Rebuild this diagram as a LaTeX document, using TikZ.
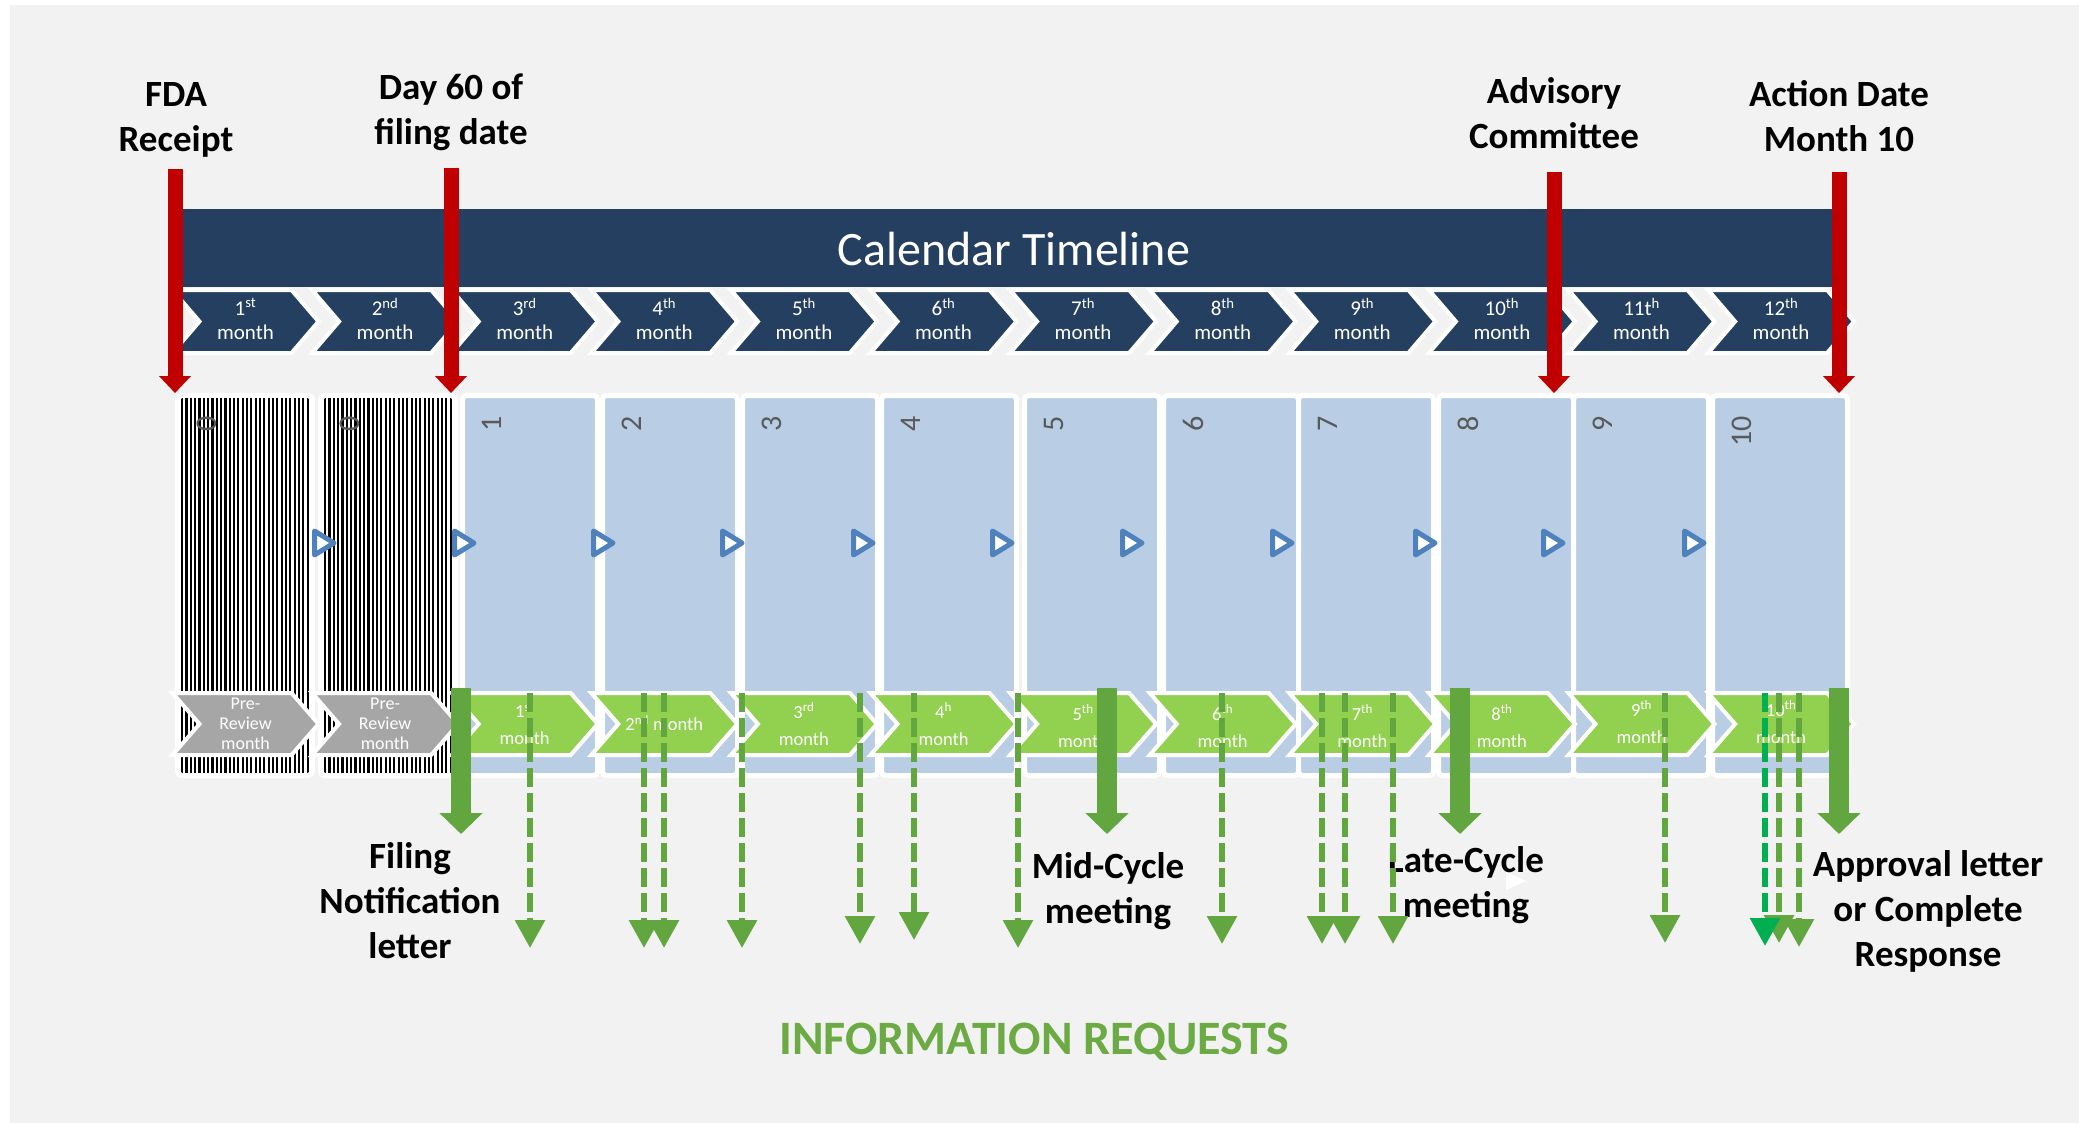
\documentclass[tikz,border=0pt]{standalone}
\usepackage{fontspec}
\setmainfont{Carlito}
\usetikzlibrary{arrows.meta}
\definecolor{bggray}{HTML}{F2F2F2}
\definecolor{navy}{HTML}{243F60}
\definecolor{boxblue}{HTML}{B9CDE5}
\definecolor{trblue}{HTML}{4F81BD}
\definecolor{chgreen}{HTML}{92D050}
\definecolor{chgray}{HTML}{A6A6A6}
\definecolor{arrgreen}{RGB}{98,166,64}
\definecolor{brightgreen}{HTML}{00B050}
\definecolor{redarr}{HTML}{C00000}
\definecolor{numgray}{HTML}{595959}
\definecolor{irgreen}{RGB}{108,170,68}
\newcommand{\myfs}[2]{\fontsize{#1}{#2}\selectfont}
\begin{document}
\begin{tikzpicture}[x=1pt,y=-1pt,
  toplbl/.style={font=\myfs{37}{45}\bfseries, align=center, text=black, inner sep=0pt},
  toptxt/.style={font=\myfs{21}{24}, text=white, align=center, inner sep=0pt},
  bottxt/.style={font=\myfs{18.5}{27}, text=white, align=center, inner sep=0pt},
  pretxt/.style={font=\myfs{18}{20}, text=white, align=center, inner sep=0pt},
  numlbl/.style={rotate=90, anchor=east, inner sep=0pt, font=\myfs{30}{30}, text=numgray},
  monthbox/.style={fill=boxblue, draw=white, line width=5pt, rounded corners=4pt, anchor=north west, minimum width=135pt, minimum height=380pt, inner sep=0pt, outer sep=0pt},
  playtri/.style={draw=trblue, fill=white, line width=5pt, line join=round},
  redarrow/.style={draw=redarr, line width=15pt, -{Triangle[width=31pt,length=17pt]}},
  redshadow/.style={draw=black, opacity=0.22, line width=15pt, -{Triangle[width=31pt,length=17pt]}},
  thickarrow/.style={draw=arrgreen, line width=20pt, -{Triangle[width=42pt,length=21pt]}},
  dasharrow/.style={draw=arrgreen, line width=6pt, dash pattern=on 19pt off 6pt, -{Triangle[width=29pt,length=28pt]}},
  chevtop/.style={fill=navy, draw=white, line width=4pt, line join=miter},
  chevbot/.style={draw=white, line width=4pt, line join=miter},
]
\useasboundingbox (0,0) rectangle (2079,1123);
\fill[white] (0,0) rectangle (2079,1123);
\fill[bggray] (10,5) rectangle (2079,1123);

% banner
\fill[navy] (183,209) rectangle (1833,287);
\node[text=white, font=\myfs{48}{48}, inner sep=0pt] (title) at (1014,249) {Calendar Timeline};

% top chevrons
\foreach \i/\a/\b in {0/1/st,1/2/nd,2/3/rd,3/4/th,4/5/th,5/6/th,6/7/th,7/8/th,8/9/th,9/10/th,10/11t/h,11/12/th} {
  \pgfmathsetmacro\cx{245.5+139.6*\i}
  \draw[chevtop] (\cx-73,290) -- (\cx+46,290) -- (\cx+73,321.5) -- (\cx+46,353) -- (\cx-73,353) -- (\cx-46,321.5) -- cycle;
  \node[toptxt] (tc\i) at (\cx,319) {\a\textsuperscript{\b}\\month};
}

% hatched boxes
\foreach \L/\nm in {180/h1, 323/h2} {
  \node[monthbox, fill=white] (\nm) at (\L-2.5,395.5) {};
  \begin{scope}
    \clip[rounded corners=3pt] (\L,398) rectangle (\L+130,773);
    \foreach \k in {0,...,29} \fill[black] ({\L+1+\k*4.33},398) rectangle ++(2.2,375);
  \end{scope}
}
% blue boxes
\foreach \L/\nm in {465/b1,605/b2,745/b3,884/b4,1027/b5,1166/b6,1301/b7,1441/b8,1576/b9,1715/b10} {
  \node[monthbox] (\nm) at (\L-2.5,395.5) {};
}
% numbers
\foreach \L/\n [count=\c] in {180/0,323/0,465/1,605/2,745/3,884/4,1027/5,1166/6,1301/7,1441/8,1576/9,1715/10} {
  \node[numlbl] (num\c) at (\L+27,416) {\n};
}
% play triangles
\foreach \L in {312,452,591,720,851,990,1120,1270,1413,1541,1682} {
  \draw[playtri] (\L+2.5,531) -- (\L+22,543) -- (\L+2.5,555) -- cycle;
}

% bottom chevrons
\foreach \i in {0,...,11} {
  \pgfmathsetmacro\cx{245.5+139.6*\i}
  \ifnum\i<2 \def\fc{chgray}\else\def\fc{chgreen}\fi
  \draw[chevbot, fill=\fc] (\cx-73,693) -- (\cx+46,693) -- (\cx+73,724) -- (\cx+46,755) -- (\cx-73,755) -- (\cx-46,724) -- cycle;
}
\node[pretxt] (bc0) at (245.5,724) {Pre-\\Review\\month};
\node[pretxt] (bc1) at (385.1,724) {Pre-\\Review\\month};
\node[bottxt] (bc2) at (524.7,724) {1\textsuperscript{st}\\month};
\node[bottxt] (bc3) at (664.3,723) {2\textsuperscript{nd} month};
\node[bottxt] (bc4) at (803.9,724) {3\textsuperscript{rd}\\month};
\node[bottxt] (bc5) at (943.5,724) {4\textsuperscript{h}\\month};
\node[bottxt] (bc6) at (1083.1,726) {5\textsuperscript{th}\\month};
\node[bottxt] (bc7) at (1222.7,726) {6\textsuperscript{th}\\month};
\node[bottxt] (bc8) at (1362.3,726) {7\textsuperscript{th}\\month};
\node[bottxt] (bc9) at (1501.9,726) {8\textsuperscript{th}\\month};
\node[bottxt] (bc10) at (1641.5,722) {9\textsuperscript{th}\\month};
\node[bottxt] (bc11) at (1781.1,722) {10\textsuperscript{th}\\month};

% top labels
\node[toplbl] (fda) at (176,120) {FDA\\Receipt};
\node[toplbl] (day60) at (451,112) {Day 60 of\\filing date};
\node[toplbl] (adv) at (1554,113) {Advisory\\Committee};
\node[toplbl] (act) at (1839,116) {Action Date\\Month 10};

% red arrows
\foreach \x/\nm/\t in {175/fdaA/169,451/dayA/168,1554/advA/172,1839/actA/172} {
  \coordinate (\nm s) at (\x,\t);
  \coordinate (\nm e) at (\x,393);
  \draw[redshadow, shift={(4,4)}] (\nm s) -- (\nm e);
  \draw[redarrow] (\nm s) -- (\nm e);
}

% bottom labels
\node[toplbl] (filing) at (410,901) {Filing\\Notification\\letter};
\node[toplbl] (midc) at (1108,891) {Mid-Cycle\\meeting};
\node[toplbl] (latec) at (1466,885) {Late-Cycle\\meeting};
\node[toplbl] (appr) at (1928,911) {Approval letter\\or Complete\\Response};
\fill[white] (1506,872) -- (1526,881) -- (1506,890) -- cycle;

% dashed arrows
\foreach \x/\t [count=\c] in {530/948,644/948,664/948,742/948,860/944,914/940,1018/948,1222/944,1322/944,1345/944,1393/944,1665/943,1779/943,1799/947} {
  \coordinate (ds\c) at (\x,693);
  \coordinate (de\c) at (\x,\t);
  \draw[dasharrow] (ds\c) -- (de\c);
}
\coordinate (dsg) at (1765,693);
\coordinate (deg) at (1765,946);
\draw[dasharrow, draw=brightgreen] (dsg) -- (deg);

% thick arrows
\foreach \x/\nm in {461/fnA,1107/midA,1460/lateA,1839/apprA} {
  \coordinate (\nm s) at (\x,688);
  \coordinate (\nm e) at (\x,834);
  \draw[thickarrow] (\nm s) -- (\nm e);
}

\node[font=\myfs{48}{48}\bfseries, text=irgreen, inner sep=0pt] (info) at (1034,1042) {INFORMATION REQUESTS};
\end{tikzpicture}
\end{document}
